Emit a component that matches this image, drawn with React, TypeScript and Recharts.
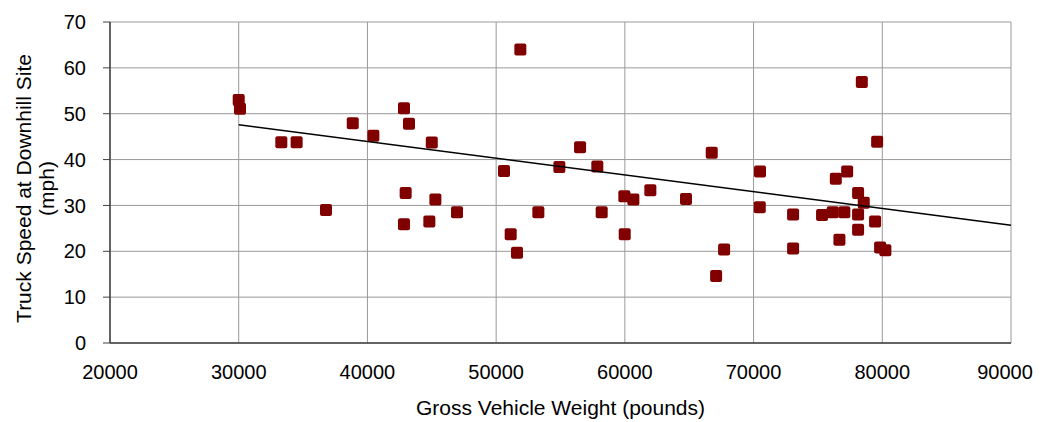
import React from 'react';
import {
  ScatterChart,
  Scatter,
  XAxis,
  YAxis,
  CartesianGrid,
  Label,
} from 'recharts';

// Gross vehicle weight (pounds) and truck speed (mph) for each truck
const weights = [
  30000, 30100, 33310, 34500, 36780, 38860, 40460, 42840, 43230, 42970, 42840,
  45000, 45280, 44810, 46960, 50610, 51880, 51130, 51620, 53280, 54910, 56520,
  57860, 58200, 59960, 60660, 59990, 61980, 64750, 66750, 67090, 67710,
  70500, 70480, 73070, 73070, 75320, 76150, 77050, 76390, 77270, 76670,
  78410, 78120, 78560, 78120, 78120, 79600, 79440, 79830, 80240,
];
const speeds = [
  53.0, 51.1, 43.8, 43.8, 29.0, 47.9, 45.2, 51.2, 47.8, 32.7, 25.9,
  43.7, 31.3, 26.5, 28.5, 37.5, 64.0, 23.7, 19.7, 28.5, 38.4, 42.7,
  38.5, 28.5, 32.0, 31.3, 23.7, 33.3, 31.4, 41.5, 14.6, 20.4,
  37.4, 29.6, 28.0, 20.6, 27.9, 28.5, 28.5, 35.8, 37.4, 22.5,
  56.9, 32.7, 30.6, 28.0, 24.7, 43.9, 26.5, 20.8, 20.2,
];

// linear trend line end points
const trendWeights = [30000, 90000];
const trendSpeeds = [47.6, 25.7];

const xTicks = [20000, 30000, 40000, 50000, 60000, 70000, 80000, 90000];
const yTicks = [0, 10, 20, 30, 40, 50, 60, 70];

const points = weights.map((w, i) => ({ x: w, y: speeds[i] }));
const trend = trendWeights.map((w, i) => ({ x: w, y: trendSpeeds[i] }));

const FONT = '"Liberation Sans", Arial, sans-serif';
const CHART_W = 1028;

const SquareMarker = (props: any) => {
  const { cx, cy } = props;
  if (cx == null || cy == null) return <g />;
  return <rect x={cx - 6} y={cy - 6} width={12} height={12} rx={2} fill="#800000" />;
};

// x tick; nudges the last label in so it is not cut at the page edge
const XTick = (props: any) => {
  const { x, y, payload } = props;
  const half = 28;
  const tx = Math.min(x, CHART_W - 3 - half);
  return (
    <text x={tx} y={y} dy="0.71em" textAnchor="middle" fontSize={20} fill="#000" fontFamily={FONT}>
      {payload.value}
    </text>
  );
};

const YLabel = (props: any) => {
  const vb = props.viewBox || {};
  const cy = (vb.y || 0) + (vb.height || 0) / 2 + 6;
  const x1 = 23;
  const x2 = 46;
  return (
    <g fontFamily={FONT} fontSize={21} fill="#000">
      <text x={x1} y={cy} textAnchor="middle" transform={`rotate(-90, ${x1}, ${cy})`}>
        Truck Speed at Downhill Site
      </text>
      <text x={x2} y={cy} textAnchor="middle" transform={`rotate(-90, ${x2}, ${cy})`}>
        (mph)
      </text>
    </g>
  );
};

export default function App() {
  return (
    <div style={{ width: CHART_W, height: 414, fontFamily: FONT }}>
      <ScatterChart
        width={CHART_W}
        height={414}
        margin={{ top: 14, right: 25, left: 0, bottom: 0 }}
      >
        <CartesianGrid stroke="#999999" strokeWidth={1} />
        <XAxis
          type="number"
          dataKey="x"
          domain={[20000, 90000]}
          ticks={xTicks}
          interval={0}
          height={79}
          tickLine={false}
          tickSize={0}
          tickMargin={22}
          axisLine={{ stroke: '#404040', strokeWidth: 1.5 }}
          tick={<XTick />}
        >
          <Label
            value="Gross Vehicle Weight (pounds)"
            position="insideBottom"
            offset={7}
            style={{ fontSize: 21, fill: '#000', fontFamily: FONT }}
          />
        </XAxis>
        <YAxis
          type="number"
          dataKey="y"
          domain={[0, 70]}
          ticks={yTicks}
          interval={0}
          width={102}
          tickSize={7}
          tickMargin={17}
          tickLine={{ stroke: '#404040' }}
          axisLine={{ stroke: '#404040', strokeWidth: 1.5 }}
          tick={{ fontSize: 20, fill: '#000', fontFamily: FONT }}
        >
          <Label content={<YLabel />} />
        </YAxis>
        <Scatter
          data={points}
          shape={<SquareMarker />}
          isAnimationActive={false}
        />
        <Scatter
          data={trend}
          line={{ stroke: '#000000', strokeWidth: 1.5 }}
          shape={() => <g />}
          isAnimationActive={false}
        />
      </ScatterChart>
    </div>
  );
}
